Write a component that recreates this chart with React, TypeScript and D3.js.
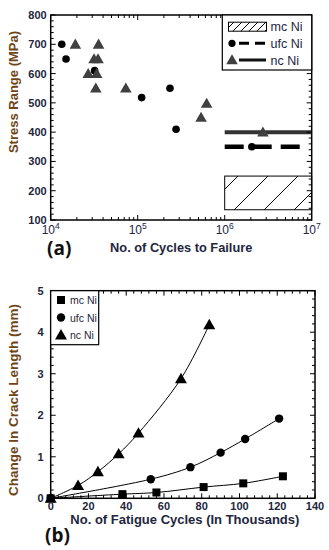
import { useEffect, useRef } from "react";
import * as d3 from "d3";

// (a) stress range vs cycles to failure
const ufcCycles = [1.34e4, 1.5e4, 3.2e4, 1.11e5, 2.35e5, 2.76e5];
const ufcStress = [700, 650, 610, 518, 550, 410];
const ncCycles = [1.92e4, 2.7e4, 3.15e4, 3.55e4, 3.5e4, 3.38e4, 3.3e4, 7.3e4, 5.35e5, 6.2e5];
const ncStress = [700, 600, 650, 700, 650, 600, 550, 550, 450, 498];
// endurance levels beyond 1e6 cycles
const limitCycles = [1e6, 1e7];
const ncLimit = 400;
const ncLimitAt = 2.75e6;
const ufcLimit = 350;
const ufcLimitAt = 2.05e6;
const mcBand = [135, 250];
const stressTicks = [100, 200, 300, 400, 500, 600, 700, 800];
const cycleDecades = [4, 5, 6, 7];
const legendA = ["mc Ni", "ufc Ni", "nc Ni"];

// (b) crack length vs fatigue cycles
const mcCyc = [0, 38, 56, 81, 102, 123];
const mcLen = [0, 0.1, 0.14, 0.27, 0.36, 0.53];
const ufcCyc = [0, 53, 74, 90, 103, 121];
const ufcLen = [0, 0.46, 0.75, 1.1, 1.43, 1.92];
const ncCyc = [0, 14.5, 25, 36, 46.5, 69, 84];
const ncLen = [0, 0.31, 0.64, 1.07, 1.57, 2.88, 4.18];
const lenTicks = [0, 1, 2, 3, 4, 5];
const fatTicks = [0, 20, 40, 60, 80, 100, 120, 140];
const legendB = ["mc Ni", "ufc Ni", "nc Ni"];

const TXT = "#23263d";
const YTITLE = "#6e4516";
const FONT = "'Liberation Sans', Arial, sans-serif";

const App = () => {
  const ref = useRef<SVGSVGElement>(null);

  useEffect(() => {
    const svg = d3.select(ref.current);
    svg.selectAll("*").remove();
    const defs = svg.append("defs");

    // ---------- panel (a) ----------
    const a = { l: 50.7, r: 311.7, t: 15, b: 220 };
    const x = d3.scaleLog().domain([1e4, 1e7]).range([a.l, a.r]);
    const y = d3.scaleLinear().domain([100, 800]).range([a.b, a.t]);
    const ga = svg.append("g");

    // hatch patterns
    const hatch = (id: string, size: number, off: number) => {
      const p = defs
        .append("pattern")
        .attr("id", id)
        .attr("patternUnits", "userSpaceOnUse")
        .attr("width", size)
        .attr("height", size)
        .attr("x", off)
        .attr("y", 0);
      p.append("path")
        .attr("d", `M0,${size} L${size},0 M-2,2 L2,-2 M${size - 2},${size + 2} L${size + 2},${size - 2}`)
        .attr("stroke", "#000")
        .attr("stroke-width", 1);
    };
    hatch("hatchBig", 30, 24);
    hatch("hatchSmall", 8, 0);

    // mc band
    ga.append("rect")
      .attr("x", x(limitCycles[0]))
      .attr("y", y(mcBand[1]))
      .attr("width", x(limitCycles[1]) - x(limitCycles[0]))
      .attr("height", y(mcBand[0]) - y(mcBand[1]))
      .attr("fill", "url(#hatchBig)")
      .attr("stroke", "#000")
      .attr("stroke-width", 1);

    // nc solid level
    ga.append("line")
      .attr("x1", x(limitCycles[0]))
      .attr("x2", x(limitCycles[1]))
      .attr("y1", y(ncLimit))
      .attr("y2", y(ncLimit))
      .attr("stroke", "#333")
      .attr("stroke-width", 4);
    // ufc dashed level
    ga.append("line")
      .attr("x1", x(limitCycles[0]))
      .attr("x2", x(8e6))
      .attr("y1", y(ufcLimit))
      .attr("y2", y(ufcLimit))
      .attr("stroke", "#000")
      .attr("stroke-width", 4.5)
      .attr("stroke-dasharray", "19 9");

    const tri = d3.symbol().type(d3.symbolTriangle).size(58);
    const triA = (cx: number, cy: number, g: any) =>
      g.append("path")
        .attr("d", tri())
        .attr("transform", `translate(${cx},${cy + 1})`)
        .attr("fill", "#404040");

    ufcCycles.forEach((c, i) =>
      ga.append("circle").attr("cx", x(c)).attr("cy", y(ufcStress[i])).attr("r", 3.8).attr("fill", "#000")
    );
    ncCycles.forEach((c, i) => triA(x(c), y(ncStress[i]), ga));
    triA(x(ncLimitAt), y(ncLimit), ga);
    ga.append("circle").attr("cx", x(ufcLimitAt)).attr("cy", y(ufcLimit)).attr("r", 3.8).attr("fill", "#000");

    // ticks
    const tickLine = (g: any, x1: number, y1: number, x2: number, y2: number) =>
      g.append("line").attr("x1", x1).attr("y1", y1).attr("x2", x2).attr("y2", y2)
        .attr("stroke", "#000").attr("stroke-width", 1);
    for (let e = 4; e < 7; e++) {
      for (let m = 1; m < 10; m++) {
        const v = m * Math.pow(10, e);
        const len = m === 1 ? 5 : 3;
        tickLine(ga, x(v), a.b, x(v), a.b - len);
        tickLine(ga, x(v), a.t, x(v), a.t + len);
      }
    }
    d3.range(100, 801, 20).forEach((v) => {
      const len = v % 100 === 0 ? 5 : 3;
      tickLine(ga, a.l, y(v), a.l + len, y(v));
      tickLine(ga, a.r, y(v), a.r - len, y(v));
    });

    ga.append("rect")
      .attr("x", a.l).attr("y", a.t)
      .attr("width", a.r - a.l).attr("height", a.b - a.t)
      .attr("fill", "none").attr("stroke", "#000").attr("stroke-width", 1.5);

    stressTicks.forEach((v) =>
      ga.append("text")
        .attr("x", a.l - 4).attr("y", y(v) + 4)
        .attr("text-anchor", "end")
        .attr("font-family", FONT).attr("font-weight", "bold").attr("font-size", 11)
        .attr("fill", TXT).text(v)
    );
    cycleDecades.forEach((e) => {
      const t = ga.append("text")
        .attr("x", x(Math.pow(10, e))).attr("y", a.b + 14)
        .attr("text-anchor", "middle")
        .attr("font-family", FONT).attr("font-size", 12)
        .attr("fill", TXT);
      t.append("tspan").text("10");
      t.append("tspan").attr("font-size", 8.5).attr("dy", -5).text(e);
    });

    ga.append("text")
      .attr("x", (a.l + a.r) / 2).attr("y", 252)
      .attr("text-anchor", "middle")
      .attr("font-family", FONT).attr("font-weight", "bold").attr("font-size", 12.8)
      .attr("fill", TXT).text("No. of Cycles to Failure");
    ga.append("text")
      .attr("transform", `translate(18,92) rotate(-90)`)
      .attr("text-anchor", "middle")
      .attr("font-family", FONT).attr("font-weight", "bold").attr("font-size", 13)
      .attr("fill", YTITLE).text("Stress Range (MPa)");
    ga.append("text")
      .attr("x", 47).attr("y", 255)
      .attr("font-family", "'Open Sans', sans-serif").attr("font-weight", "bold").attr("font-size", 19)
      .attr("fill", "#111").text("(a)");

    // legend (a)
    const la = { l: 222.3, t: a.t, w: a.r - 222.3, h: 55 };
    ga.append("rect")
      .attr("x", la.l).attr("y", la.t).attr("width", la.w).attr("height", la.h)
      .attr("fill", "#fff").attr("stroke", "#000").attr("stroke-width", 1.2);
    const rowsA = [26.7, 43.3, 60];
    ga.append("rect")
      .attr("x", 228.5).attr("y", rowsA[0] - 4.5).attr("width", 38).attr("height", 9)
      .attr("fill", "url(#hatchSmall)").attr("stroke", "#000").attr("stroke-width", 1);
    ga.append("circle").attr("cx", 232).attr("cy", rowsA[1]).attr("r", 3.6).attr("fill", "#000");
    ga.append("line").attr("x1", 239).attr("x2", 266).attr("y1", rowsA[1]).attr("y2", rowsA[1])
      .attr("stroke", "#000").attr("stroke-width", 3).attr("stroke-dasharray", "10 6");
    triA(232, rowsA[2], ga);
    ga.append("line").attr("x1", 239).attr("x2", 266).attr("y1", rowsA[2]).attr("y2", rowsA[2])
      .attr("stroke", "#111").attr("stroke-width", 3);
    legendA.forEach((s, i) =>
      ga.append("text")
        .attr("x", 270.5).attr("y", rowsA[i] + 4.5)
        .attr("font-family", FONT).attr("font-size", 12.5)
        .attr("fill", TXT).text(s)
    );

    // ---------- panel (b) ----------
    const b = { l: 50.7, r: 315, t: 290.7, b: 498.3 };
    const xb = d3.scaleLinear().domain([0, 140]).range([b.l, b.r]);
    const yb = d3.scaleLinear().domain([0, 5]).range([b.b, b.t]);
    const gb = svg.append("g");

    d3.range(0, 141, 4).forEach((v) => {
      const len = v % 20 === 0 ? 5 : 3;
      tickLine(gb, xb(v), b.b, xb(v), b.b - len);
      tickLine(gb, xb(v), b.t, xb(v), b.t + len);
    });
    d3.range(0, 5.01, 0.2).forEach((v) => {
      const len = Math.abs(v - Math.round(v)) < 1e-6 ? 5 : 3;
      tickLine(gb, b.l, yb(v), b.l + len, yb(v));
      tickLine(gb, b.r, yb(v), b.r - len, yb(v));
    });

    const line = d3.line<[number, number]>()
      .x((d) => xb(d[0])).y((d) => yb(d[1]))
      .curve(d3.curveCatmullRom.alpha(0.5));
    const series = [
      { cyc: mcCyc, len: mcLen },
      { cyc: ufcCyc, len: ufcLen },
      { cyc: ncCyc, len: ncLen },
    ];
    series.forEach((s) =>
      gb.append("path")
        .attr("d", line(s.cyc.map((c, i) => [c, s.len[i]] as [number, number])))
        .attr("fill", "none").attr("stroke", "#000").attr("stroke-width", 1)
    );
    const sq = (cx: number, cy: number) =>
      gb.append("rect").attr("x", cx - 4).attr("y", cy - 4).attr("width", 8).attr("height", 8).attr("fill", "#000");
    const ci = (cx: number, cy: number) =>
      gb.append("circle").attr("cx", cx).attr("cy", cy).attr("r", 4.2).attr("fill", "#000");
    const triB = (cx: number, cy: number) =>
      gb.append("path").attr("d", d3.symbol().type(d3.symbolTriangle).size(62)())
        .attr("transform", `translate(${cx},${cy + 1})`).attr("fill", "#000");
    mcCyc.forEach((c, i) => sq(xb(c), yb(mcLen[i])));
    ufcCyc.forEach((c, i) => ci(xb(c), yb(ufcLen[i])));
    ncCyc.forEach((c, i) => triB(xb(c), yb(ncLen[i])));

    gb.append("rect")
      .attr("x", b.l).attr("y", b.t)
      .attr("width", b.r - b.l).attr("height", b.b - b.t)
      .attr("fill", "none").attr("stroke", "#000").attr("stroke-width", 1.5);

    lenTicks.forEach((v) =>
      gb.append("text")
        .attr("x", b.l - 7).attr("y", yb(v) + 4)
        .attr("text-anchor", "end")
        .attr("font-family", FONT).attr("font-weight", "bold").attr("font-size", 11)
        .attr("fill", TXT).text(v)
    );
    fatTicks.forEach((v) =>
      gb.append("text")
        .attr("x", xb(v)).attr("y", b.b + 12)
        .attr("text-anchor", "middle")
        .attr("font-family", FONT).attr("font-weight", "bold").attr("font-size", 11)
        .attr("fill", TXT).text(v)
    );
    gb.append("text")
      .attr("x", (b.l + b.r) / 2 + 2).attr("y", 524)
      .attr("text-anchor", "middle")
      .attr("font-family", FONT).attr("font-weight", "bold").attr("font-size", 13)
      .attr("fill", TXT).text("No. of Fatigue Cycles (In Thousands)");
    gb.append("text")
      .attr("transform", `translate(18,400) rotate(-90)`)
      .attr("text-anchor", "middle")
      .attr("font-family", FONT).attr("font-weight", "bold").attr("font-size", 13.5)
      .attr("fill", YTITLE).text("Change In Crack Length (mm)");
    gb.append("text")
      .attr("x", 45).attr("y", 542)
      .attr("font-family", "'Open Sans', sans-serif").attr("font-weight", "bold").attr("font-size", 19)
      .attr("fill", "#111").text("(b)");

    // legend (b)
    gb.append("rect")
      .attr("x", b.l).attr("y", b.t).attr("width", 48).attr("height", 54)
      .attr("fill", "#fff").attr("stroke", "#000").attr("stroke-width", 1.2);
    const rowsB = [300, 317.5, 335];
    sq(61, rowsB[0]);
    ci(61, rowsB[1]);
    triB(61, rowsB[2]);
    legendB.forEach((s, i) =>
      gb.append("text")
        .attr("x", 70).attr("y", rowsB[i] + 4)
        .attr("font-family", FONT).attr("font-size", 10.5)
        .attr("fill", TXT).text(s)
    );
  }, []);

  return (
    <div style={{ position: "absolute", left: 0, top: 0, background: "#fff" }}>
      <svg ref={ref} width={329} height={550} />
    </div>
  );
};

export default App;
